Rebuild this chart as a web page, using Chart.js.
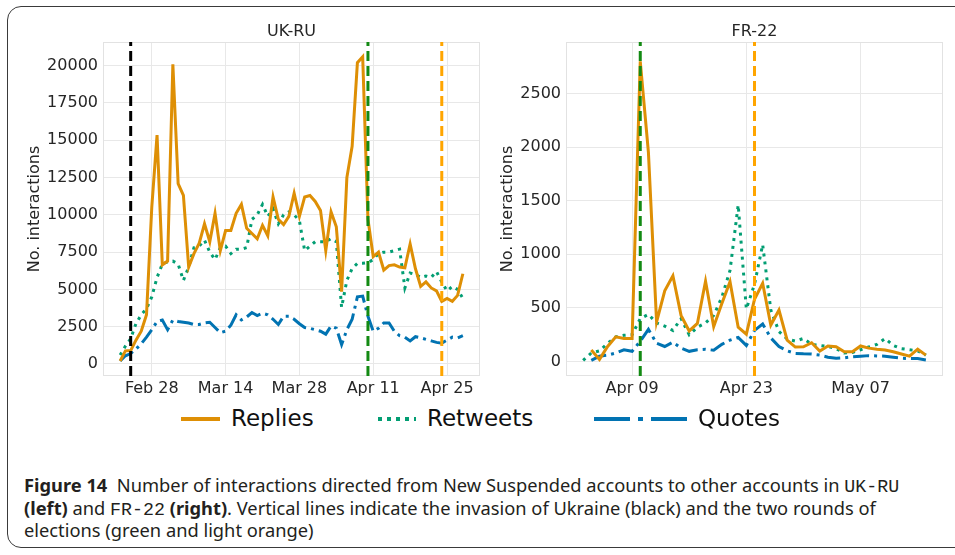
<!DOCTYPE html>
<html>
<head>
<meta charset="utf-8">
<script src="https://cdn.jsdelivr.net/npm/chart.js"></script>
<style>
  body { margin: 0; width: 955px; height: 555px; background: #fff; position: relative; overflow: hidden; font-family: "DejaVu Sans", sans-serif; }
  .frame { position: absolute; left: 7px; top: 6px; width: 990px; height: 542px; border: 1.5px solid #3a3a3a; border-radius: 14px; box-sizing: border-box; }
  canvas { position: absolute; top: 0; }
  #ukChart { left: 0; }
  #frChart { left: 470px; }
  .leg { position: absolute; }
  .leg-text { position: absolute; top: 404px; font-size: 23px; line-height: 28px; color: #111; }
  .caption { position: absolute; left: 24px; top: 475px; font-family: "Noto Sans", sans-serif; font-size: 18.3px; line-height: 20.5px; color: #231f20; white-space: nowrap; }
  .mono { font-family: "Liberation Mono", monospace; }
</style>
</head>
<body>
<div class="frame"></div>
<canvas id="ukChart" width="490" height="400"></canvas>
<canvas id="frChart" width="485" height="400"></canvas>

<svg class="leg" style="left:181px;top:411px" width="40" height="16"><line x1="0" y1="8" x2="39" y2="8" stroke="#de8f05" stroke-width="4"/></svg>
<span class="leg-text" style="left:231px">Replies</span>
<svg class="leg" style="left:378px;top:411px" width="40" height="16"><line x1="0" y1="8" x2="38" y2="8" stroke="#029e73" stroke-width="4" stroke-dasharray="4 5"/></svg>
<span class="leg-text" style="left:427px">Retweets</span>
<svg class="leg" style="left:594px;top:411px" width="96" height="16"><line x1="0" y1="8" x2="94" y2="8" stroke="#0173b2" stroke-width="4" stroke-dasharray="36 8 5 8"/></svg>
<span class="leg-text" style="left:698px">Quotes</span>

<div class="caption"><b>Figure 14</b>&nbsp; Number of interactions directed from New Suspended accounts to other accounts in <span class="mono">UK-RU</span><br><b>(left)</b> and <span class="mono">FR-22</span> <b>(right)</b>. Vertical lines indicate the invasion of Ukraine (black) and the two rounds of<br>elections (green and light orange)</div>

<script>
// UK-RU: daily values, day 0 = Feb 22
const ukReplies = [200, 880, 900, 1600, 2200, 3300, 10500, 15350, 6650, 6900,
  20100, 12100, 11300, 6500, 7400, 8100, 9400, 8200, 10100, 7600,
  8950, 8950, 10100, 10700, 9100, 8750, 8400, 9300, 8600, 11200,
  9700, 9350, 9900, 11450, 9900, 11200, 11300, 10900, 10300, 7600,
  10200, 9200, 4850, 12500, 14600, 20200, 20600, 9700, 7200, 7500,
  6300, 6600, 6650, 6500, 6450, 8050, 6400, 5200, 5500, 5100,
  4900, 4200, 4400, 4200, 4600, 6050];
const ukRetweets = [600, 1200, 1700, 2700, 3300, 3700, 4500, 5800, 6700, 6850,
  6900, 6700, 5600, 6500, 7800, 7900, 8300, 7500, 7000, 7800,
  7900, 7400, 7700, 7700, 7800, 9700, 10000, 10700, 9900, 10400,
  9400, 10000, 10200, 10000, 9600, 7600, 7900, 8200, 8200, 8200,
  8400, 8200, 3800, 5600, 6400, 6750, 6750, 6800, 7000, 7400,
  7500, 7500, 7600, 7700, 5100, 6100, 6000, 5800, 5900, 5800,
  6200, 5500, 4900, 5200, 5000, 4400];
const ukQuotes = [200, 550, 700, 1000, 1350, 1800, 2300, 2850, 2950, 2300,
  2950, 2850, 2800, 2750, 2650, 2650, 2750, 2800, 2450, 2100,
  2200, 2600, 3300, 2950, 3150, 3450, 3250, 3400, 3300, 3000,
  2650, 3200, 3200, 3000, 2700, 2450, 2390, 2300, 2200, 2000,
  2550, 2400, 1300, 2300, 3000, 4500, 4550, 3200, 2200, 2400,
  2750, 2750, 2200, 1900, 1800, 1550, 1830, 1750, 1650, 1550,
  1450, 1400, 1600, 1800, 1750, 1900];
const ukTickDays = [6, 20, 34, 48, 62];
const ukTickLabels = ['Feb 28', 'Mar 14', 'Mar 28', 'Apr 11', 'Apr 25'];
const ukYTicks = [0, 2500, 5000, 7500, 10000, 12500, 15000, 17500, 20000];
const ukEventDays = [2, 47, 61];   // Feb 24, Apr 10, Apr 24

// FR-22: daily values, day 0 = Apr 3
const frReplies = [null, 107, 20, 140, 230, 215, 215, 2800, 1950, 370,
  660, 800, 430, 285, 355, 750, 325, 540, 745, 320,
  255, 580, 730, 340, 480, 200, 135, 138, 175, 98,
  145, 138, 91, 91, 145, 125, 114, 107, 91, 70,
  50, 115, 60];
const frRetweets = [10, 80, 100, 170, 230, 245, 250, 400, 440, 360,
  330, 290, 400, 250, 320, 360, 430, 600, 850, 1460,
  490, 720, 1090, 480, 280, 210, 190, 215, 160, 150,
  140, 120, 80, 85, 110, 135, 160, 215, 150, 120,
  110, 100, 60];
const frQuotes = [null, 10, 50, 60, 80, 110, 95, 190, 300, 170,
  140, 180, 125, 95, 110, 115, 105, 160, 200, 225,
  150, 290, 350, 220, 140, 100, 76, 72, 70, 60,
  40, 30, 35, 45, 50, 55, 52, 50, 40, 30,
  28, 28, 15];
const frTickDays = [6, 20, 34];
const frTickLabels = ['Apr 09', 'Apr 23', 'May 07'];
const frYTicks = [0, 500, 1000, 1500, 2000, 2500];
const frEventDays = [7, 21];       // Apr 10, Apr 24

const textColor = '#262626';
const gridColor = '#e8e8e8';

// light box round the plot area, and the panel title centred over it
const plotFrame = {
  id: 'plotFrame',
  beforeDatasetsDraw(chart) {
    const a = chart.chartArea, ctx = chart.ctx;
    ctx.save();
    ctx.strokeStyle = '#e2e2e2';
    ctx.lineWidth = 1;
    ctx.strokeRect(a.left + 0.5, a.top + 0.5, a.width - 1, a.height - 1);
    ctx.restore();
  },
  afterDraw(chart, args, opts) {
    const a = chart.chartArea, ctx = chart.ctx;
    ctx.save();
    ctx.fillStyle = textColor;
    ctx.font = '16px "DejaVu Sans"';
    ctx.textAlign = 'center';
    ctx.textBaseline = 'middle';
    ctx.fillText(opts.text, (a.left + a.right) / 2, a.top - 10);
    ctx.restore();
  }
};

function series(values) {
  return values.map((v, i) => ({ x: i, y: v }));
}

function makeChart(id, o) {
  const events = o.eventDays.map((d, i) => ({
    data: [{ x: d, y: o.yMin }, { x: d, y: o.yMax }],
    borderColor: o.eventColors[i], borderWidth: 3, borderDash: [10, 5],
    pointRadius: 0, order: 0
  }));
  return new Chart(document.getElementById(id), {
    type: 'line',
    data: {
      datasets: [
        ...events,
        { data: series(o.replies), borderColor: '#de8f05', borderWidth: 3, pointRadius: 0, order: 1 },
        { data: series(o.retweets), borderColor: '#029e73', borderWidth: 3, borderDash: [3, 5], pointRadius: 0, order: 2 },
        { data: series(o.quotes), borderColor: '#0173b2', borderWidth: 3, borderDash: [16, 5, 3, 5], pointRadius: 0, order: 3 }
      ]
    },
    options: {
      responsive: false,
      animation: false,
      devicePixelRatio: 1,
      layout: { padding: { left: 0, right: o.padRight, top: 42, bottom: 0 } },
      plugins: {
        legend: { display: false },
        tooltip: { enabled: false },
        plotFrame: { text: o.title }
      },
      scales: {
        x: {
          type: 'linear', min: o.xMin, max: o.xMax,
          afterBuildTicks: s => { s.ticks = o.tickDays.map(v => ({ value: v })); },
          afterFit: s => { s.height = 24; },
          ticks: { callback: (v, i) => o.tickLabels[i], color: textColor, font: { family: 'DejaVu Sans', size: 16 }, padding: 3, maxRotation: 0, autoSkip: false },
          grid: { color: gridColor, drawTicks: false },
          border: { display: false }
        },
        y: {
          min: o.yMin, max: o.yMax,
          afterBuildTicks: s => { s.ticks = o.yTicks.map(v => ({ value: v })); },
          afterFit: s => { s.width = o.axisWidth; },
          ticks: { callback: v => String(v), color: textColor, font: { family: 'DejaVu Sans', size: 16 }, padding: 5 },
          grid: { color: gridColor, drawTicks: false },
          border: { display: false },
          title: { display: true, text: 'No. interactions', color: textColor, font: { family: 'DejaVu Sans', size: 16 }, padding: { top: o.titlePad, bottom: 0 } }
        }
      }
    },
    plugins: [plotFrame]
  });
}

makeChart('ukChart', {
  title: 'UK-RU', replies: ukReplies, retweets: ukRetweets, quotes: ukQuotes,
  tickDays: ukTickDays, tickLabels: ukTickLabels, yTicks: ukYTicks,
  eventDays: ukEventDays, eventColors: ['#000000', '#138a13', '#ffa500'],
  xMin: -3.25, xMax: 68.25, yMin: -805, yMax: 21590,
  axisWidth: 103, padRight: 10, titlePad: 25
});

makeChart('frChart', {
  title: 'FR-22', replies: frReplies, retweets: frRetweets, quotes: frQuotes,
  tickDays: frTickDays, tickLabels: frTickLabels, yTicks: frYTicks,
  eventDays: frEventDays, eventColors: ['#138a13', '#ffa500'],
  xMin: -2.1, xMax: 44.1, yMin: -135, yMax: 2980,
  axisWidth: 96, padRight: 12, titlePad: 28
});
</script>
</body>
</html>
